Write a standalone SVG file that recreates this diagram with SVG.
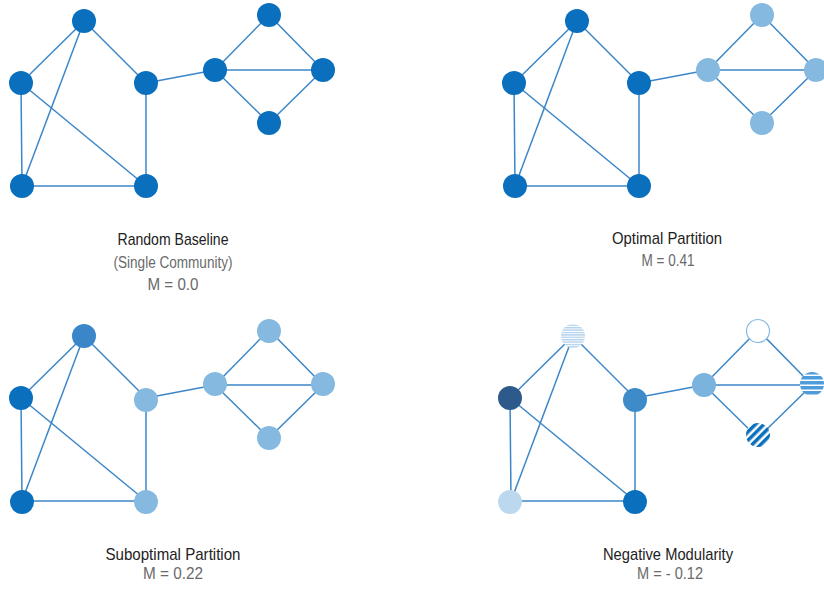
<svg xmlns="http://www.w3.org/2000/svg" width="824" height="591" viewBox="0 0 824 591">
<style>
.e{stroke:#3b86c8;stroke-width:1.5;fill:none}
.d{fill:#0a6fbd}
.l{fill:#86b9e0}
.t{font-family:"Liberation Sans",Arial,sans-serif;font-size:17px;fill:#222;text-anchor:middle}
.s{font-family:"Liberation Sans",Arial,sans-serif;font-size:16px;fill:#6a6a6a;text-anchor:middle}
</style>
<defs>
<pattern id="hs1" patternUnits="userSpaceOnUse" width="4" height="2.4">
<rect width="4" height="2.4" fill="#ffffff"/><rect width="4" height="1.4" fill="#b4d2ec"/>
</pattern>
<pattern id="hs2" patternUnits="userSpaceOnUse" width="4" height="5" y="1">
<rect width="4" height="5" fill="#ffffff"/><rect width="4" height="3.5" fill="#4f9cdb"/>
</pattern>
<pattern id="ds" patternUnits="userSpaceOnUse" width="6" height="6" patternTransform="rotate(-45)">
<rect width="6" height="6" fill="#ffffff"/><rect width="6" height="3.5" fill="#0a6fbd"/>
</pattern>
<g id="edges">
<line x1="84" y1="21" x2="21" y2="83"/>
<line x1="84" y1="21" x2="146" y2="83"/>
<line x1="84" y1="21" x2="22" y2="186"/>
<line x1="21" y1="83" x2="22" y2="186"/>
<line x1="21" y1="83" x2="146" y2="186"/>
<line x1="146" y1="83" x2="146" y2="186"/>
<line x1="22" y1="186" x2="146" y2="186"/>
<line x1="146" y1="83" x2="215" y2="70"/>
<line x1="215" y1="70" x2="269" y2="15"/>
<line x1="215" y1="70" x2="323" y2="70"/>
<line x1="215" y1="70" x2="269" y2="123"/>
<line x1="269" y1="15" x2="323" y2="70"/>
<line x1="323" y1="70" x2="269" y2="123"/>
</g>
</defs>
<g id="connectors" class="e">
<use href="#edges"/>
<use href="#edges" transform="translate(493,0)"/>
<use href="#edges" transform="translate(0,315)"/>
<use href="#edges" transform="translate(489,315)"/>
</g>
<g id="panel1">
<circle class="d" cx="84" cy="21" r="12"/>
<circle class="d" cx="21" cy="83" r="12"/>
<circle class="d" cx="146" cy="83" r="12"/>
<circle class="d" cx="22" cy="186" r="12"/>
<circle class="d" cx="146" cy="186" r="12"/>
<circle class="d" cx="215" cy="70" r="12"/>
<circle class="d" cx="269" cy="15" r="12"/>
<circle class="d" cx="323" cy="70" r="12"/>
<circle class="d" cx="269" cy="123" r="12"/>
<text class="t" x="173" y="245" textLength="111" lengthAdjust="spacingAndGlyphs">Random Baseline</text>
<text class="s" x="173" y="268" textLength="119" lengthAdjust="spacingAndGlyphs">(Single  Community)</text>
<text class="s" x="173" y="290" textLength="51" lengthAdjust="spacingAndGlyphs">M = 0.0</text>
</g>
<g id="panel2" transform="translate(493,0)">
<circle class="d" cx="84" cy="21" r="12"/>
<circle class="d" cx="21" cy="83" r="12"/>
<circle class="d" cx="146" cy="83" r="12"/>
<circle class="d" cx="22" cy="186" r="12"/>
<circle class="d" cx="146" cy="186" r="12"/>
<circle class="l" cx="215" cy="70" r="12"/>
<circle class="l" cx="269" cy="15" r="12"/>
<circle class="l" cx="323" cy="70" r="12"/>
<circle class="l" cx="269" cy="123" r="12"/>
<text class="t" x="174" y="244" textLength="110" lengthAdjust="spacingAndGlyphs">Optimal Partition</text>
<text class="s" x="175" y="266" textLength="53" lengthAdjust="spacingAndGlyphs">M = 0.41</text>
</g>
<g id="panel3" transform="translate(0,315)">
<circle fill="#3a86c8" cx="84" cy="21" r="12"/>
<circle class="d" cx="21" cy="83" r="12"/>
<circle class="l" cx="146" cy="85" r="12"/>
<circle class="d" cx="22" cy="187" r="12"/>
<circle class="l" cx="146" cy="187" r="12"/>
<circle class="l" cx="215" cy="69" r="12"/>
<circle class="l" cx="269" cy="16" r="12"/>
<circle class="l" cx="323" cy="69" r="12"/>
<circle class="l" cx="269" cy="123" r="12"/>
<text class="t" x="173" y="245" textLength="135" lengthAdjust="spacingAndGlyphs">Suboptimal Partition</text>
<text class="s" x="173" y="264" textLength="60" lengthAdjust="spacingAndGlyphs">M = 0.22</text>
</g>
<g id="panel4" transform="translate(489,315)">
<circle fill="url(#hs1)" cx="84" cy="21" r="12"/>
<circle fill="#2d5a8a" cx="21" cy="83" r="12"/>
<circle fill="#3d8bc8" cx="146" cy="85" r="12"/>
<circle fill="#bcd8ee" cx="21" cy="187" r="12"/>
<circle class="d" cx="146" cy="187" r="12"/>
<circle fill="#7ab3dd" cx="215" cy="70" r="12"/>
<circle fill="#ffffff" stroke="#86b9e0" stroke-width="1.2" cx="269" cy="16" r="11.5"/>
<circle fill="url(#hs2)" cx="323" cy="69" r="12"/>
<circle fill="url(#ds)" cx="269" cy="120" r="12"/>
<text class="t" x="179" y="245" textLength="130" lengthAdjust="spacingAndGlyphs">Negative Modularity</text>
<text class="s" x="181" y="264" textLength="66" lengthAdjust="spacingAndGlyphs">M = - 0.12</text>
</g>
</svg>
